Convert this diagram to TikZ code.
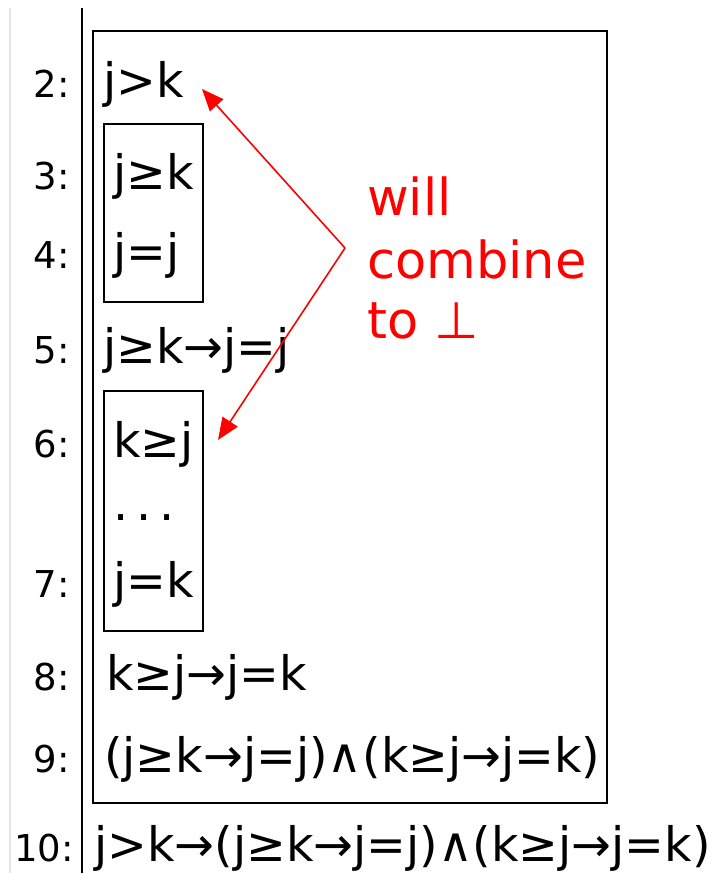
\documentclass[tikz,border=0pt]{standalone}
\usepackage{fontspec}
\setmainfont{DejaVu Sans}
\usetikzlibrary{arrows.meta}

\tikzset{
  formula/.style={anchor=base west, inner sep=0pt, font=\fontsize{47.5}{54}\selectfont},
  lineno/.style={anchor=base east, inner sep=0pt, font=\fontsize{37}{44}\selectfont},
  note/.style={anchor=base west, inner sep=0pt, text=red, font=\fontsize{51}{62}\selectfont},
  frame/.style={draw=black, line width=2pt},
  pointer/.style={draw=red, line width=1.6pt, -{Triangle[length=22pt,width=18pt]}}
}

\begin{document}
\begin{tikzpicture}[x=1pt, y=-1pt]
  \useasboundingbox (0,0) rectangle (717,873);

  % margin rules
  \draw[line width=2pt, black!10] (10,8) coordinate (gtop) -- (10,873) coordinate (gbot);
  \draw[line width=2.2pt, black] (82,8) coordinate (btop) -- (82,873) coordinate (bbot);

  % subproof boxes
  \draw[frame] (93,31) rectangle (607,803);
  \draw[frame] (104,124) rectangle (203,302);
  \draw[frame] (104,391) rectangle (203,631);

  % line numbers
  \node[lineno] (n2)  at (70,97)  {2:};
  \node[lineno] (n3)  at (70,189) {3:};
  \node[lineno] (n4)  at (70,268) {4:};
  \node[lineno] (n5)  at (70,363) {5:};
  \node[lineno] (n6)  at (70,457) {6:};
  \node[lineno] (n7)  at (70,597) {7:};
  \node[lineno] (n8)  at (70,690) {8:};
  \node[lineno] (n9)  at (70,772) {9:};
  \node[lineno] (n10) at (74,861) {10:};

  % formulas
  \node[formula] (f2)  at (103,97)  {j>k};
  \node[formula] (f3)  at (113,189) {j≥k};
  \node[formula] (f4)  at (113,268) {j=j};
  \node[formula] (f5)  at (103,363) {j≥k→j=j};
  \node[formula] (f6)  at (113,457) {k≥j};
  \node[formula] (dots) at (113,520) {.\hspace{8pt}.\hspace{8pt}.};
  \node[formula] (f7)  at (113,597) {j=k};
  \node[formula] (f8)  at (106,690) {k≥j→j=k};
  \node[formula] (f9)  at (104,772) {(j≥k→j=j)∧(k≥j→j=k)};
  \node[formula] (f10) at (94,861)  {j>k→(j≥k→j=j)∧(k≥j→j=k)};

  % annotation
  \node[note] (w1) at (367,215) {will};
  \node[note] (w2) at (367,278) {combine};
  \node[note] (w3) at (367,338) {to ⊥};

  \coordinate (bend) at (345,248);
  \coordinate (tipA) at (202,89);
  \coordinate (tipB) at (218,440);
  \draw[pointer] (bend) -- (tipA);
  \draw[pointer] (bend) -- (tipB);
\end{tikzpicture}
\end{document}
